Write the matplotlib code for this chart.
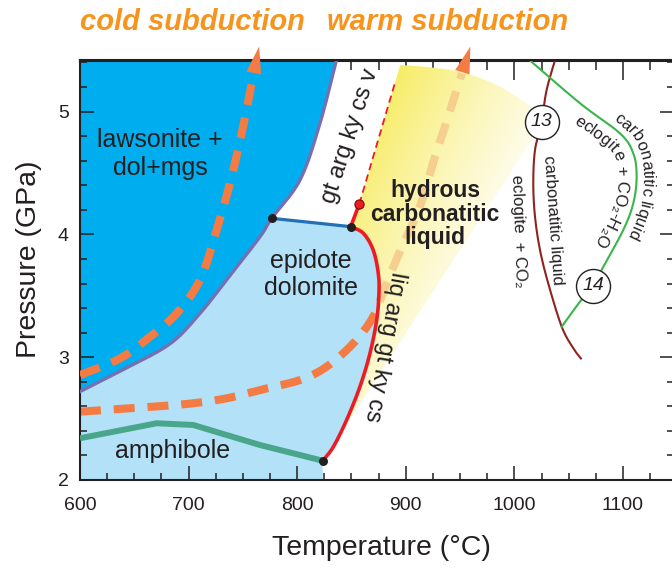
import numpy as np
import matplotlib
matplotlib.use('Agg')
from matplotlib import pyplot as plt
from matplotlib.patches import Polygon
from matplotlib.font_manager import FontProperties
from matplotlib.ticker import MultipleLocator

FAMILY = ['Liberation Sans', 'DejaVu Sans']
plt.rcParams['font.family'] = FAMILY
INK = '#231F20'
ORANGE = '#F47C44'

# axis range (T in degC, P in GPa)
T_MIN, T_MAX = 600, 1147
P_MIN, P_MAX = 2.0, 5.416

# lawsonite-out boundary (purple), 7th point is the invariant point
law_T = [600, 640, 683, 710.5, 735, 765.7, 776.5, 802.6, 821, 837]
law_P = [2.72, 2.90, 3.11, 3.357, 3.63, 3.98, 4.131, 4.443, 4.905, 5.45]
# epidote-out line (blue)
epi_T = [776.5, 849.3]
epi_P = [4.131, 4.063]
# solidus (red), from upper invariant point down to lower one
sol_T = [849.3, 860.9, 870, 874.7, 875.3, 873.2, 867, 857.8, 845.6, 833.3, 823.5]
sol_P = [4.063, 4.009, 3.873, 3.683, 3.52, 3.30, 3.03, 2.76, 2.49, 2.27, 2.157]
# upper solidus / vapour-out (red, dashed part)
sol2_T = [849.3, 857.2]
sol2_P = [4.063, 4.248]
vap_T = [857.2, 890]
vap_P = [4.248, 5.233]
# amphibole-out
amph_T = [600, 670.6, 704.3, 765.7, 823.5]
amph_P = [2.34, 2.462, 2.448, 2.285, 2.157]
# liquid field, outer arc
arc_T = [894.9, 922.3, 949.9, 980.6, 1002.1, 1016, 1027.3]
arc_P = [5.38, 5.36, 5.325, 5.23, 5.121, 5.03, 4.923]
# subduction geotherms
cold_T = [600, 636.8, 664.5, 689, 710.5, 725.9, 738.1, 748.9, 758.1, 759.9]
cold_P = [2.855, 2.99, 3.167, 3.357, 3.63, 4.036, 4.416, 4.823, 5.23, 5.31]
cold_tip = (765.0, 5.53)
warm_T = [600, 667.5, 704.3, 735, 765.7, 802.6, 827.2, 851.7, 870, 882.3, 895, 913, 926.9, 937.6, 946.8, 951.7]
warm_P = [2.556, 2.597, 2.625, 2.665, 2.733, 2.814, 2.923, 3.113, 3.33, 3.60, 3.87, 4.226, 4.633, 4.918, 5.176, 5.31]
warm_tip = (959.5, 5.53)
# carbonated eclogite solidi
s13_T = [1038.5, 1029.7, 1025.1, 1019, 1017.4, 1019, 1023.6, 1031.2, 1043.6, 1054.3, 1061.3]
s13_P = [5.45, 5.176, 4.918, 4.687, 4.416, 4.144, 3.873, 3.60, 3.248, 3.072, 2.99]
s14_T = [1010, 1060.4, 1097.2, 1109.5, 1112.6, 1109.5, 1100.3, 1081.9, 1072.7, 1060.4, 1043.6]
s14_P = [5.45, 5.068, 4.823, 4.66, 4.47, 4.253, 4.036, 3.737, 3.58, 3.452, 3.248]
ref_T = [1025.1, 1072.7]
ref_P = [4.918, 3.58]
ref_lab = ['13', '14']
dots_T = [776.5, 849.3, 823.5]
dots_P = [4.131, 4.063, 2.157]


def smooth(xs, ys, n=16):
    '''Catmull-Rom through the given points'''
    p = np.column_stack([xs, ys]).astype(float)
    p = np.vstack([p[0], p, p[-1]])
    out = []
    t = np.linspace(0, 1, n, endpoint=False)[:, None]
    for i in range(1, len(p) - 2):
        p0, p1, p2, p3 = p[i-1], p[i], p[i+1], p[i+2]
        out.append(0.5*(2*p1 + (-p0+p2)*t + (2*p0-5*p1+4*p2-p3)*t**2
                        + (-p0+3*p1-3*p2+p3)*t**3))
    out.append(p[-2][None])
    return np.vstack(out)


def curved_text(ax, path, text, start, offset, size, **kw):
    prop = FontProperties(family=FAMILY, size=size)
    rend = ax.figure.canvas.get_renderer()
    pts = ax.transData.transform(path)
    d = np.gradient(pts, axis=0)
    d /= np.hypot(d[:, 0], d[:, 1])[:, None]
    off = pts + offset*np.column_stack([-d[:, 1], d[:, 0]])
    arc = np.concatenate([[0], np.cumsum(np.hypot(*np.diff(off, axis=0).T))])
    base = rend.get_text_width_height_descent('xx', prop, ismath=False)[0]
    inv = ax.transData.inverted()
    pos = start
    for ch in text:
        w = rend.get_text_width_height_descent('x'+ch+'x', prop, ismath=False)[0] - base
        c = pos + w/2
        x = np.interp(c, arc, off[:, 0])
        y = np.interp(c, arc, off[:, 1])
        ang = np.degrees(np.arctan2(np.interp(c, arc, d[:, 1]), np.interp(c, arc, d[:, 0])))
        tx, ty = inv.transform((x, y))
        ax.text(tx, ty, ch, fontproperties=prop, rotation=ang, rotation_mode='anchor',
                ha='center', va='baseline', color=INK, zorder=7, **kw)
        pos += w


fig = plt.figure(figsize=(6.72, 5.69), dpi=100)
ax = fig.add_axes([80/672, 89/569, 594/672, 419.5/569])
ax.set_xlim(T_MIN, T_MAX)
ax.set_ylim(P_MIN, P_MAX)

n = 16
law = smooth(law_T, law_P, n)
sol = smooth(sol_T, sol_P, n)
arc = smooth(arc_T, arc_P, n)

# fields
ax.fill(np.r_[law[:, 0], T_MIN], np.r_[law[:, 1], law[-1, 1]], color='#00AEEF', lw=0, zorder=1)
lb = np.vstack([[T_MIN, P_MIN], law[:6*n+1], sol, [sol_T[-1], P_MIN]])
ax.fill(lb[:, 0], lb[:, 1], color='#B3E1F7', lw=0, zorder=1)

# warm geotherm under the liquid field
warm = smooth(warm_T, warm_P, n)
ax.plot(warm[:, 0], warm[:, 1], color=ORANGE, lw=5.8, dashes=(2.6, 1.6),
        dash_capstyle='butt', zorder=1.5)

fan_xy = np.vstack([sol[::-1], [[sol2_T[-1], sol2_P[-1]]], arc])
fan = Polygon(fan_xy, closed=True, facecolor='none', edgecolor='none')
ax.add_patch(fan)
gT = np.linspace(815, 1035, 300)
gP = np.linspace(2.1, 5.45, 300)
GT, GP = np.meshgrid(gT, gP)
disp = ax.transData.transform(np.column_stack([GT.ravel(), GP.ravel()]))
px = disp[:, 0]
py = 569 - disp[:, 1]
s = (px - 380) + 0.5*(py - 100)
w = np.clip(1 - s/220, 0, 1)**1.3
yellow = np.array([247, 236, 100])/255.
rgb = 1 - w[:, None]*(1 - yellow)
im = ax.imshow(rgb.reshape(300, 300, 3), extent=[815, 1035, 2.1, 5.45], origin='lower',
               aspect='auto', zorder=2, interpolation='bilinear')
im.set_clip_path(fan)
pale, = ax.plot(warm[:, 0], warm[:, 1], color='#F6CE8E', lw=5.8, dashes=(2.6, 1.6),
                dash_capstyle='butt', zorder=2.5)
pale.set_clip_path(fan)

# boundaries
ax.plot(law[:, 0], law[:, 1], color='#7670B3', lw=2.4, zorder=3)
ax.plot(epi_T, epi_P, color='#2270B5', lw=2.3, zorder=3)
ax.plot(amph_T, amph_P, color='#4AA68A', lw=4.3, zorder=3, solid_capstyle='butt')
ax.plot(sol[:, 0], sol[:, 1], color='#ED1C24', lw=2.6, zorder=3)
ax.plot(sol2_T, sol2_P, color='#ED1C24', lw=2.6, zorder=3)
ax.plot(vap_T, vap_P, color='#ED1C24', lw=1.3, dashes=(4, 2.5), zorder=3)

cold = smooth(cold_T, cold_P, n)
ax.plot(cold[:, 0], cold[:, 1], color=ORANGE, lw=5.8, dashes=(2.6, 1.6),
        dash_capstyle='butt', zorder=3)
for (bt, bp), tip in [((cold_T[-1], cold_P[-1]), cold_tip), ((warm_T[-1], warm_P[-1]), warm_tip)]:
    ax.annotate('', xy=tip, xytext=(bt, bp), annotation_clip=False,
                arrowprops=dict(arrowstyle='-|>,head_length=0.97,head_width=0.27',
                                mutation_scale=20, color=ORANGE, lw=0,
                                shrinkA=0, shrinkB=0), zorder=4)

s13 = smooth(s13_T, s13_P, n)
s14 = smooth(s14_T, s14_P, n)
ax.plot(s13[:, 0], s13[:, 1], color='#8E2320', lw=1.5, zorder=3)
ax.plot(s14[:, 0], s14[:, 1], color='#39B54A', lw=1.5, zorder=3)

ax.scatter(dots_T, dots_P, s=42, color=INK, zorder=6, lw=0)
ax.scatter([sol2_T[-1]], [sol2_P[-1]], s=44, facecolor='#ED1C24', edgecolor='#6B0F0F',
           lw=0.8, zorder=6)
ax.scatter(ref_T, ref_P, s=600, facecolor='white', edgecolor=INK, lw=1.0, zorder=6)
for t, p, lab in zip(ref_T, ref_P, ref_lab):
    ax.text(t, p, lab, fontsize=14, style='italic', ha='center', va='center',
            color=INK, zorder=7)

# field labels
ax.text(673.7, 4.655, 'lawsonite +\ndol+mgs', fontsize=18, ha='center', va='center',
        color=INK, linespacing=1.25, zorder=7)
ax.text(812.7, 3.67, 'epidote\ndolomite', fontsize=18, ha='center', va='center',
        color=INK, linespacing=1.15, zorder=7)
ax.text(685.4, 2.236, 'amphibole', fontsize=18, ha='center', va='center', color=INK, zorder=7)
ax.text(926.9, 4.166, 'hydrous\ncarbonatitic\nliquid', fontsize=16.5, fontweight='bold',
        ha='center', va='center', color=INK, linespacing=1.05, zorder=7)
ax.text(848.6, 4.80, 'gt arg ky cs v', fontsize=17, rotation=72, rotation_mode='anchor',
        ha='center', va='center', color=INK, zorder=7)
ax.text(880.9, 3.085, 'liq arg gt ky cs', fontsize=17, rotation=-100, rotation_mode='anchor',
        ha='center', va='center', color=INK, zorder=7)
ax.text(1004.2, 4.028, 'eclogite  + CO\u2082', fontsize=12, rotation=-88,
        rotation_mode='anchor', ha='center', va='center', color=INK, zorder=7)
ax.text(1035.5, 4.117, 'carbonatitic liquid', fontsize=12, rotation=-86,
        rotation_mode='anchor', ha='center', va='center', color=INK, zorder=7)
curved_text(ax, s14, 'carbonatitic liquid', 108, 6, 12)
curved_text(ax, s14, 'eclogite + CO\u2082-H\u2082O', 80, -19.5, 12)

# axes styling
ax.xaxis.set_major_locator(MultipleLocator(100))
ax.xaxis.set_minor_locator(MultipleLocator(25))
ax.yaxis.set_major_locator(MultipleLocator(1))
ax.yaxis.set_minor_locator(MultipleLocator(0.2))
ax.tick_params(which='both', direction='in', width=1.1, color=INK, labelcolor=INK,
               labelsize=14, top=False, right=True)
ax.tick_params(which='major', length=10)
ax.tick_params(which='minor', length=5)
ax.tick_params(axis='x', pad=12.5)
ax.tick_params(axis='y', pad=8)
top = ax.secondary_xaxis('top')
top.xaxis.set_major_locator(MultipleLocator(100))
top.xaxis.set_minor_locator(MultipleLocator(25))
top.tick_params(which='both', direction='in', width=1.1, color=INK, labeltop=False)
top.tick_params(which='major', length=14.4)
top.tick_params(which='minor', length=7.2)
top.spines['top'].set_linewidth(1.5)
top.spines['top'].set_color(INK)
for sp in ax.spines.values():
    sp.set_linewidth(1.5)
    sp.set_color(INK)

ax.set_xlabel('Temperature (\u00b0C)', fontsize=20.5, color=INK, va='center')
ax.xaxis.set_label_coords(0.508, -0.162)
ax.set_ylabel('Pressure (GPa)', fontsize=20.5, color=INK, va='center')
ax.yaxis.set_label_coords(-0.086, 0.527)

fig.text(192/672, 1 - 22/569, 'cold subduction', fontsize=21, fontweight='bold',
         style='italic', color='#F7941D', ha='center', va='center')
fig.text(448/672, 1 - 22/569, 'warm subduction', fontsize=21, fontweight='bold',
         style='italic', color='#F7941D', ha='center', va='center')

ax.set_xlim(T_MIN, T_MAX)
ax.set_ylim(P_MIN, P_MAX)
fig.savefig('out.png', dpi=100)
